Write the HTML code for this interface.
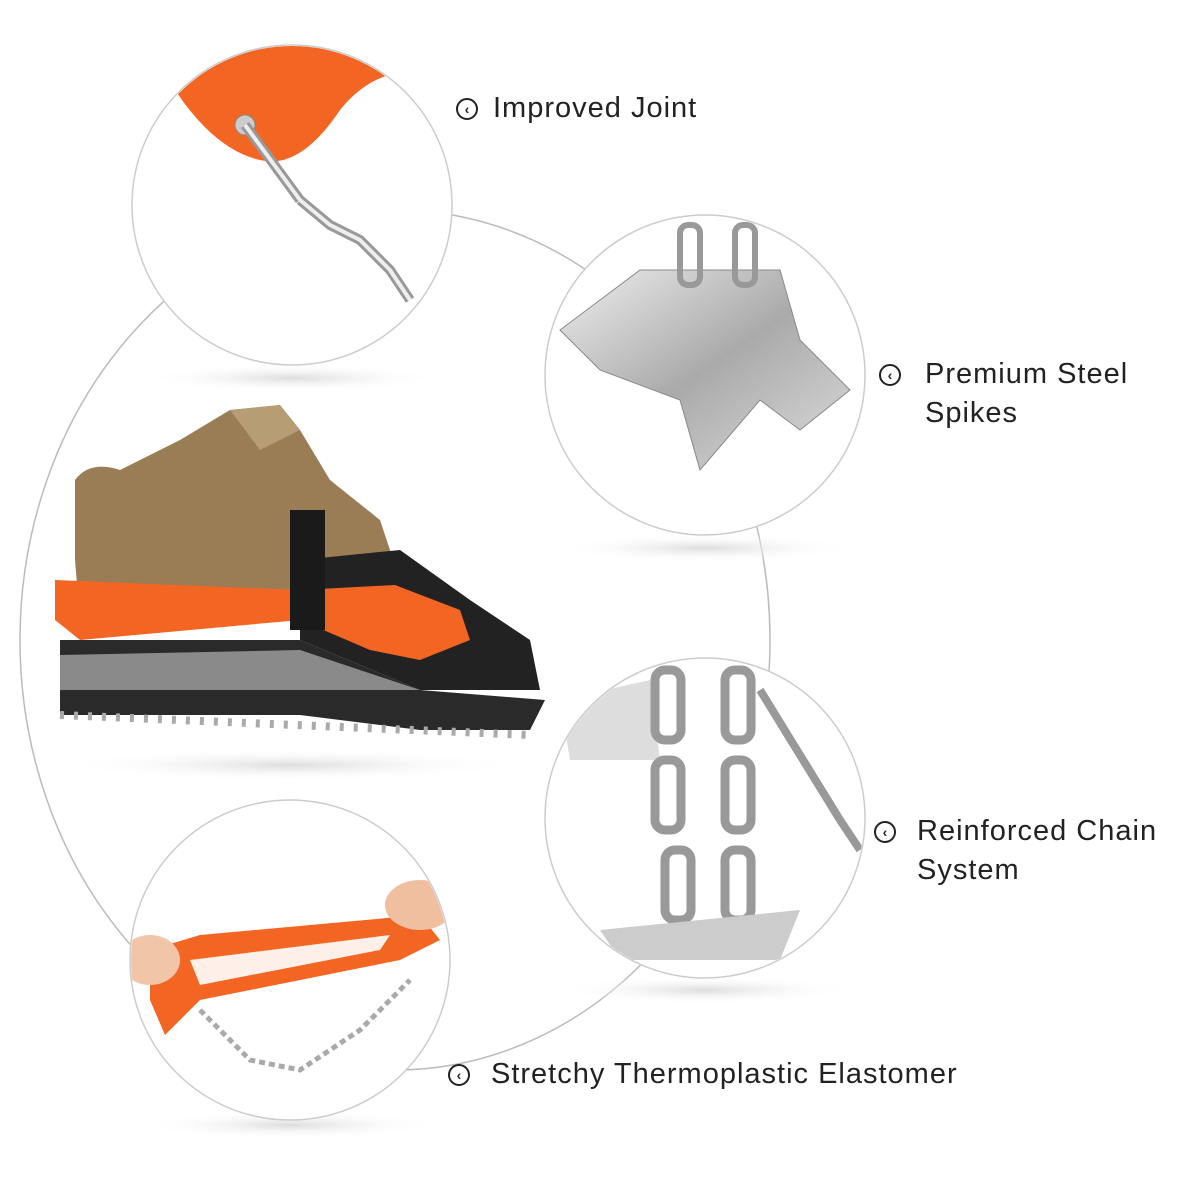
<!DOCTYPE html>
<html><head><meta charset="utf-8"><style>
html,body{margin:0;padding:0;background:#fff;}
body{width:1200px;height:1200px;position:relative;overflow:hidden;font-family:"Liberation Sans",sans-serif;}
.lbl{position:absolute;font-size:29px;color:#222;line-height:39px;letter-spacing:1px}
.ic{position:absolute;width:18px;height:18px;border:2px solid #222;border-radius:50%;font-size:14px;line-height:18px;text-align:center;font-weight:bold;color:#222}
</style></head><body>
<svg width="1200" height="1200" style="position:absolute;left:0;top:0">
<defs>
<radialGradient id="sh" cx="50%" cy="50%" r="50%"><stop offset="0" stop-color="#ddd"/><stop offset="1" stop-color="#fff" stop-opacity="0"/></radialGradient>
<linearGradient id="st" x1="0" y1="0" x2="1" y2="1"><stop offset="0" stop-color="#eee"/><stop offset="0.5" stop-color="#aaa"/><stop offset="1" stop-color="#ddd"/></linearGradient>
</defs>
<ellipse cx="395" cy="640" rx="375" ry="430" fill="none" stroke="#bbb" stroke-width="1.5"/>
<ellipse cx="292" cy="378" rx="150" ry="14" fill="url(#sh)"/>
<ellipse cx="705" cy="548" rx="150" ry="14" fill="url(#sh)"/>
<ellipse cx="705" cy="990" rx="150" ry="14" fill="url(#sh)"/>
<ellipse cx="290" cy="1125" rx="150" ry="14" fill="url(#sh)"/>
<ellipse cx="290" cy="765" rx="230" ry="16" fill="url(#sh)"/>
<circle cx="292" cy="205" r="160" fill="#fff" stroke="#ccc" stroke-width="1.5"/>
<clipPath id="c1"><circle cx="292" cy="205" r="159"/></clipPath>
<g clip-path="url(#c1)">
<path d="M150 45 L450 45 L440 75 Q380 60 340 110 Q300 170 260 160 Q215 150 175 90 Q150 60 150 45Z" fill="#f26522"/>
<circle cx="245" cy="125" r="10" fill="#ccc" stroke="#888"/>
<path d="M245 125 L300 200 M300 200 L330 225 L360 240 L390 270 L410 300" stroke="#999" stroke-width="10" fill="none"/>
<path d="M245 125 L300 200 M300 200 L330 225 L360 240 L390 270 L410 300" stroke="#eee" stroke-width="4" fill="none"/>
</g>
<circle cx="705" cy="375" r="160" fill="#fff" stroke="#ccc" stroke-width="1.5"/>
<clipPath id="c2"><circle cx="705" cy="375" r="159"/></clipPath>
<g clip-path="url(#c2)">
<path d="M640 270 L780 270 L800 340 L850 390 L800 430 L760 400 L700 470 L680 400 L600 370 L560 330 Z" fill="url(#st)" stroke="#888"/>
<rect x="680" y="225" width="20" height="60" rx="8" fill="none" stroke="#999" stroke-width="6"/>
<rect x="735" y="225" width="20" height="60" rx="8" fill="none" stroke="#999" stroke-width="6"/>
</g>
<circle cx="705" cy="818" r="160" fill="#fff" stroke="#ccc" stroke-width="1.5"/>
<clipPath id="c3"><circle cx="705" cy="818" r="159"/></clipPath>
<g clip-path="url(#c3)">
<path d="M560 700 L650 680 L660 760 L570 760Z" fill="#ddd"/>
<path d="M760 690 L840 820 L860 850" stroke="#999" stroke-width="8" fill="none"/>
<g fill="none" stroke="#999" stroke-width="9">
<rect x="655" y="670" width="26" height="70" rx="10"/><rect x="725" y="670" width="26" height="70" rx="10"/>
<rect x="655" y="760" width="26" height="70" rx="10"/><rect x="725" y="760" width="26" height="70" rx="10"/>
<rect x="665" y="850" width="26" height="70" rx="10"/><rect x="725" y="850" width="26" height="70" rx="10"/>
</g>
<path d="M600 930 L800 910 L780 960 L620 960Z" fill="#ccc"/>
</g>
<circle cx="290" cy="960" r="160" fill="#fff" stroke="#ccc" stroke-width="1.5"/>
<clipPath id="c4"><circle cx="290" cy="960" r="159"/></clipPath>
<g clip-path="url(#c4)">
<path d="M150 950 L200 935 L420 915 L440 940 L400 960 L200 1000 L165 1035 L150 1000Z" fill="#f26522"/>
<path d="M190 960 L390 935 L380 950 L200 985Z" fill="#fff" opacity="0.9"/>
<ellipse cx="150" cy="960" rx="30" ry="25" fill="#f1c6a8"/>
<ellipse cx="420" cy="905" rx="35" ry="25" fill="#efbfa0"/>
<path d="M200 1010 L250 1060 L300 1070 L360 1030 L410 980" stroke="#aaa" stroke-width="5" fill="none" stroke-dasharray="6 4"/>
</g>
<path d="M75 560 L75 480 Q90 460 120 470 L180 440 L230 410 L280 405 L300 430 L330 480 L380 520 L400 580 L360 620 L80 620Z" fill="#9b7d55"/>
<path d="M230 410 L280 405 L300 430 L260 450Z" fill="#b79d74"/>
<path d="M300 560 L400 550 L470 600 L530 640 L540 690 L420 690 L300 640Z" fill="#222"/>
<path d="M60 640 L300 640 L420 690 L545 700 L530 730 L420 730 L300 715 L60 715Z" fill="#2a2a2a"/>
<path d="M60 655 L300 650 L420 690 L300 690 L60 690Z" fill="#8a8a8a"/>
<path d="M55 580 L300 590 L395 585 L460 610 L470 640 L420 660 L370 650 L300 620 L80 640 L55 620Z" fill="#f26522"/>
<rect x="290" y="510" width="35" height="120" fill="#1a1a1a"/>
<path d="M60 715 L530 735" stroke="#aaa" stroke-width="8" stroke-dasharray="4 10"/>
</svg>
<div class="ic" style="left:456px;top:98px">&lsaquo;</div>
<div class="lbl" style="left:493px;top:89px">Improved Joint</div>
<div class="ic" style="left:879px;top:364px">&lsaquo;</div>
<div class="lbl" style="left:925px;top:355px">Premium Steel<br>Spikes</div>
<div class="ic" style="left:874px;top:821px">&lsaquo;</div>
<div class="lbl" style="left:917px;top:812px">Reinforced Chain<br>System</div>
<div class="ic" style="left:448px;top:1064px">&lsaquo;</div>
<div class="lbl" style="left:491px;top:1055px">Stretchy Thermoplastic Elastomer</div>
</body></html>
